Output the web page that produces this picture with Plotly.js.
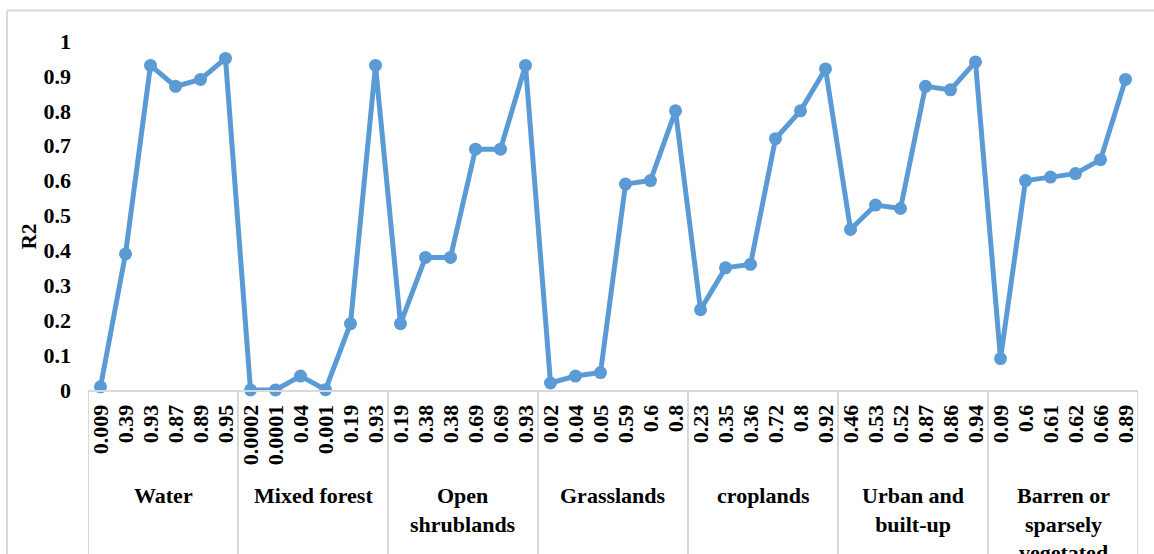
<!DOCTYPE html>
<html>
<head>
<meta charset="utf-8">
<script src="https://cdn.plot.ly/plotly-3.0.1.min.js"></script>
<style>html,body{margin:0;padding:0;background:#fff;}#chart{width:1154px;height:554px;}</style>
</head>
<body>
<div id="chart"></div>
<script>
const groups = ["Water", "Mixed forest", "Open<br>shrublands", "Grasslands", "croplands", "Urban and<br>built-up", "Barren or<br>sparsely<br>vegetated"];
const water = [0.009, 0.39, 0.93, 0.87, 0.89, 0.95];
const mixedForest = [0.0002, 0.0001, 0.04, 0.001, 0.19, 0.93];
const openShrublands = [0.19, 0.38, 0.38, 0.69, 0.69, 0.93];
const grasslands = [0.02, 0.04, 0.05, 0.59, 0.6, 0.8];
const croplands = [0.23, 0.35, 0.36, 0.72, 0.8, 0.92];
const urban = [0.46, 0.53, 0.52, 0.87, 0.86, 0.94];
const barren = [0.09, 0.6, 0.61, 0.62, 0.66, 0.89];
const tickLabels = [
  "0.009","0.39","0.93","0.87","0.89","0.95",
  "0.0002","0.0001","0.04","0.001","0.19","0.93",
  "0.19","0.38","0.38","0.69","0.69","0.93",
  "0.02","0.04","0.05","0.59","0.6","0.8",
  "0.23","0.35","0.36","0.72","0.8","0.92",
  "0.46","0.53","0.52","0.87","0.86","0.94",
  "0.09","0.6","0.61","0.62","0.66","0.89"
];
const yTicks = [0, 0.1, 0.2, 0.3, 0.4, 0.5, 0.6, 0.7, 0.8, 0.9, 1];
const yTitle = "R2";

const series = [water, mixedForest, openShrublands, grasslands, croplands, urban, barren];
const yVals = [].concat(...series);
const xIdx = yVals.map((_, i) => i);
const perGroup = 6;

const font = "Liberation Serif, Times New Roman, serif";
const blue = "#5B9BD5";
const gray = "#D9D9D9";

const trace = {
  x: xIdx, y: yVals, type: "scatter", mode: "lines+markers",
  line: {color: blue, width: 5},
  marker: {color: blue, size: 13},
  cliponaxis: false, hoverinfo: "y"
};

const shapes = [];
for (let g = 0; g <= groups.length; g++) {
  shapes.push({type: "line", xref: "x", yref: "paper",
    x0: g * perGroup - 0.5, x1: g * perGroup - 0.5, y0: 0, y1: -0.6,
    line: {color: gray, width: 2}});
}
shapes.push({type: "line", xref: "paper", yref: "paper", x0: -0.0771, x1: 1.05, y0: 1.0871, y1: 1.0871, line: {color: gray, width: 2}});
shapes.push({type: "line", xref: "paper", yref: "paper", x0: -0.0771, x1: -0.0771, y0: 1.0871, y1: -0.6, line: {color: gray, width: 2}});

const annotations = groups.map((g, i) => ({
  text: "<b>" + g + "</b>", xref: "x", yref: "paper",
  x: i * perGroup + (perGroup - 1) / 2, y: -0.262,
  xanchor: "center", yanchor: "top", showarrow: false, align: "center",
  font: {family: font, size: 22, color: "#000"}
}));
annotations.push({
  text: "<b>" + yTitle + "</b>", xref: "paper", yref: "paper",
  x: -0.0555, y: 0.44, xanchor: "center", yanchor: "middle",
  textangle: -90, showarrow: false,
  font: {family: font, size: 21, color: "#000"}
});

const layout = {
  width: 1154, height: 554,
  margin: {l: 88, r: 16, t: 40.5, b: 163.5},
  paper_bgcolor: "#fff", plot_bgcolor: "#fff",
  showlegend: false,
  font: {family: font, color: "#000"},
  xaxis: {
    range: [-0.5, yVals.length - 0.5],
    tickmode: "array", tickvals: xIdx,
    ticktext: tickLabels.map(t => "<b>" + t + "</b>"),
    tickangle: -90, ticks: "", showgrid: false, zeroline: false,
    showline: true, linecolor: gray, linewidth: 2,
    tickfont: {family: font, size: 22, color: "#000"},
    ticklabelstandoff: 4,
    fixedrange: true
  },
  yaxis: {
    range: [0, 1],
    tickmode: "array", tickvals: yTicks,
    ticktext: yTicks.map(v => "<b>" + v + "</b>"),
    showgrid: false, zeroline: false, showline: false, ticks: "",
    tickfont: {family: font, size: 22, color: "#000"},
    ticklabelstandoff: 16,
    fixedrange: true
  },
  shapes: shapes,
  annotations: annotations
};

Plotly.newPlot("chart", [trace], layout, {displayModeBar: false, staticPlot: true});
</script>
</body>
</html>
